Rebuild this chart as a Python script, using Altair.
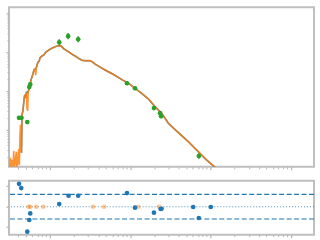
import math
import altair as alt
import pandas as pd

# ---------------- data (log10 wavelength, log10 flux) ----------------
model_logwave = [-1.503, -1.491, -1.484, -1.472, -1.460, -1.451, -1.441, -1.429, -1.419, -1.410,
                 -1.398, -1.389, -1.381, -1.373, -1.366, -1.360, -1.354, -1.348, -1.335, -1.323,
                 -1.314, -1.304, -1.292, -1.286, -1.277, -1.271, -1.257, -1.245, -1.236, -1.224,
                 -1.211, -1.199, -1.186, -1.176, -1.170, -1.161, -1.149, -1.133, -1.124, -1.099,
                 -1.078, -1.050, -1.016, -0.975, -0.934, -0.901, -0.872, -0.851, -0.830, -0.801,
                 -0.768, -0.727, -0.686, -0.652, -0.602, -0.553, -0.499, -0.466, -0.437, -0.379,
                 -0.313, -0.230, -0.147, -0.093, -0.022, 0.060, 0.143, 0.230, 0.308, 0.391,
                 0.475, 0.590, 0.723, 0.839, 0.950, 1.062, 1.087]
model_logflux = [-13.08, -12.72, -13.03, -12.77, -13.08, -12.54, -12.97, -12.77, -12.56, -13.03,
                 -12.72, -12.49, -12.90, -12.13, -11.87, -12.51, -12.59, -11.62, -11.49, -11.23,
                 -11.10, -11.18, -11.03, -11.44, -11.51, -11.03, -10.90, -10.82, -10.72, -10.64,
                 -10.56, -10.46, -10.44, -10.59, -10.41, -10.33, -10.26, -10.23, -10.15, -10.10,
                 -10.08, -10.00, -9.95, -9.90, -9.86, -9.84, -9.83, -9.86, -9.91, -9.95,
                 -9.99, -10.05, -10.10, -10.15, -10.21, -10.22, -10.22, -10.26, -10.31, -10.38,
                 -10.46, -10.55, -10.65, -10.72, -10.80, -10.93, -11.06, -11.21, -11.40, -11.57,
                 -11.83, -12.05, -12.30, -12.54, -12.77, -12.97, -13.03]
smooth_start = 16
smooth_skip = [23, 24, 33]

obs_logwave = [-1.385, -1.354, -1.282, -1.257, -1.245, -0.884, -0.773, -0.648,
               -0.040, 0.060, 0.296, 0.373, 0.385, 0.855]
obs_logflux = [-11.69, -11.69, -11.80, -10.90, -10.83, -9.75, -9.59, -9.67,
               -10.80, -10.93, -11.44, -11.57, -11.65, -12.67]
obs_yerr = [0.03, 0.03, 0.05, 0.06, 0.06, 0.08, 0.08, 0.08,
            0.05, 0.05, 0.05, 0.05, 0.05, 0.07]
obs_xerr = [0.02, 0.02, 0, 0, 0, 0, 0, 0, 0, 0, 0, 0, 0, 0]

res_logwave = [-1.385, -1.357, -1.282, -1.257, -1.245, -0.884, -0.768, -0.648,
               -0.040, 0.060, 0.296, 0.379, 0.391, 0.785, 0.855, 1.004]
res_value = [5.61, 4.56, -6.10, -3.24, -1.63, 0.66, 2.68, 2.68,
             3.34, -0.24, -1.46, -0.56, -0.49, -0.07, -2.76, -0.07]

lim_logwave = [-1.265, -1.245, -1.170, -1.083, -0.462, -0.325, 0.102, 0.358]
lim_value = [0, 0, 0, 0, 0, 0, 0, 0]

sigma_lines = [-3, 3]
zero_line = [0]

x_domain = [-1.51, 2.29]
y_domain = [-12.95, -8.85]
r_domain = [-6.83, 6.34]

x_major = [-1, 0, 1, 2]
x_minor = [n + math.log10(k) for n in range(-2, 3) for k in range(2, 10)
           if x_domain[0] < n + math.log10(k) < x_domain[1]]
y_major = [-12, -11, -10, -9]
y_minor = [n + math.log10(k) for n in range(-13, -8) for k in range(2, 10)
           if y_domain[0] < n + math.log10(k) < y_domain[1]]
r_ticks = [-5, 0, 5]

BLUE = "#1f77b4"
ORANGE = "#ff7f0e"
GREEN = "#2ca02c"
TICK = "#b5b5b5"

W = 306

model_df = pd.DataFrame({"lw": model_logwave, "lf": model_logflux, "i": range(len(model_logwave))})
smooth_df = model_df[(model_df.i >= smooth_start) & (~model_df.i.isin(smooth_skip))]
obs_df = pd.DataFrame({"lw": obs_logwave, "lf": obs_logflux, "ye": obs_yerr, "xe": obs_xerr})
obs_df["lo"] = obs_df.lf - obs_df.ye
obs_df["hi"] = obs_df.lf + obs_df.ye
obs_df["xl"] = obs_df.lw - obs_df.xe
obs_df["xh"] = obs_df.lw + obs_df.xe
res_df = pd.DataFrame({"lw": res_logwave, "r": res_value})
lim_df = pd.DataFrame({"lw": lim_logwave, "r": lim_value})


def ax(values, size, orient, width=1.0):
    return alt.Axis(values=values, labels=False, domain=False, grid=False, title=None,
                    ticks=True, tickSize=size, tickColor=TICK, tickWidth=width, orient=orient)


xs = alt.Scale(domain=x_domain, nice=False, zero=False)
ys = alt.Scale(domain=y_domain, nice=False, zero=False)
rs = alt.Scale(domain=r_domain, nice=False, zero=False)

# ---------------- top panel ----------------
blue_line = alt.Chart(smooth_df).mark_line(color=BLUE, strokeWidth=1.5, clip=True).encode(
    x=alt.X("lw:Q", scale=xs, axis=ax(x_major, 3, "bottom", 1.2)),
    y=alt.Y("lf:Q", scale=ys, axis=ax(y_major, 3, "left", 1.2)),
    order="i:Q",
)
orange_line = alt.Chart(model_df).mark_line(color=ORANGE, strokeWidth=1.6, opacity=0.85, clip=True).encode(
    x=alt.X("lw:Q", scale=xs, axis=ax(x_minor, 2, "bottom")),
    y=alt.Y("lf:Q", scale=ys, axis=ax(y_minor, 2, "left")),
    order="i:Q",
)
yerr = alt.Chart(obs_df).mark_rule(color=GREEN, strokeWidth=1.5, clip=True).encode(
    x=alt.X("lw:Q", scale=xs, axis=None),
    y=alt.Y("lo:Q", scale=ys, axis=None),
    y2="hi:Q",
)
xerr = alt.Chart(obs_df).mark_rule(color=GREEN, strokeWidth=1.5, clip=True).encode(
    x=alt.X("xl:Q", scale=xs, axis=None),
    x2="xh:Q",
    y=alt.Y("lf:Q", scale=ys, axis=None),
)
obs_pts = alt.Chart(obs_df).mark_circle(color=GREEN, size=22, opacity=1, clip=True).encode(
    x=alt.X("lw:Q", scale=xs, axis=None),
    y=alt.Y("lf:Q", scale=ys, axis=None),
)
top = alt.layer(blue_line, orange_line, yerr, xerr, obs_pts).resolve_axis(
    x="independent", y="independent").properties(width=W, height=160)

# ---------------- residual panel ----------------
sig = alt.Chart(pd.DataFrame({"r": sigma_lines})).mark_rule(
    color=BLUE, strokeWidth=1.2, strokeDash=[5, 2.5]).encode(
    y=alt.Y("r:Q", scale=rs, axis=None))
zero = alt.Chart(pd.DataFrame({"r": zero_line})).mark_rule(
    color=BLUE, strokeWidth=1.2, strokeDash=[1, 2], opacity=0.8).encode(
    y=alt.Y("r:Q", scale=rs, axis=None))
lim_pts = alt.Chart(lim_df).mark_circle(color=ORANGE, size=22, opacity=0.45).encode(
    x=alt.X("lw:Q", scale=xs, axis=ax(x_minor, 2, "bottom")),
    y=alt.Y("r:Q", scale=rs, axis=ax(r_ticks, 3, "left", 1.2)),
)
res_pts = alt.Chart(res_df).mark_circle(color=BLUE, size=22, opacity=1).encode(
    x=alt.X("lw:Q", scale=xs, axis=ax(x_major, 3, "bottom", 1.2)),
    y=alt.Y("r:Q", scale=rs, axis=None),
)
bottom = alt.layer(sig, zero, lim_pts, res_pts).resolve_axis(
    x="independent", y="independent").properties(width=W, height=54)

chart = alt.vconcat(top, bottom, spacing=8).properties(
    padding={"left": 4, "top": 6, "right": 4, "bottom": 2},
    background="white",
).configure_view(stroke="#bfbfbf", strokeWidth=2)

chart.save("out.html", embed_options={"renderer": "svg", "actions": False})
